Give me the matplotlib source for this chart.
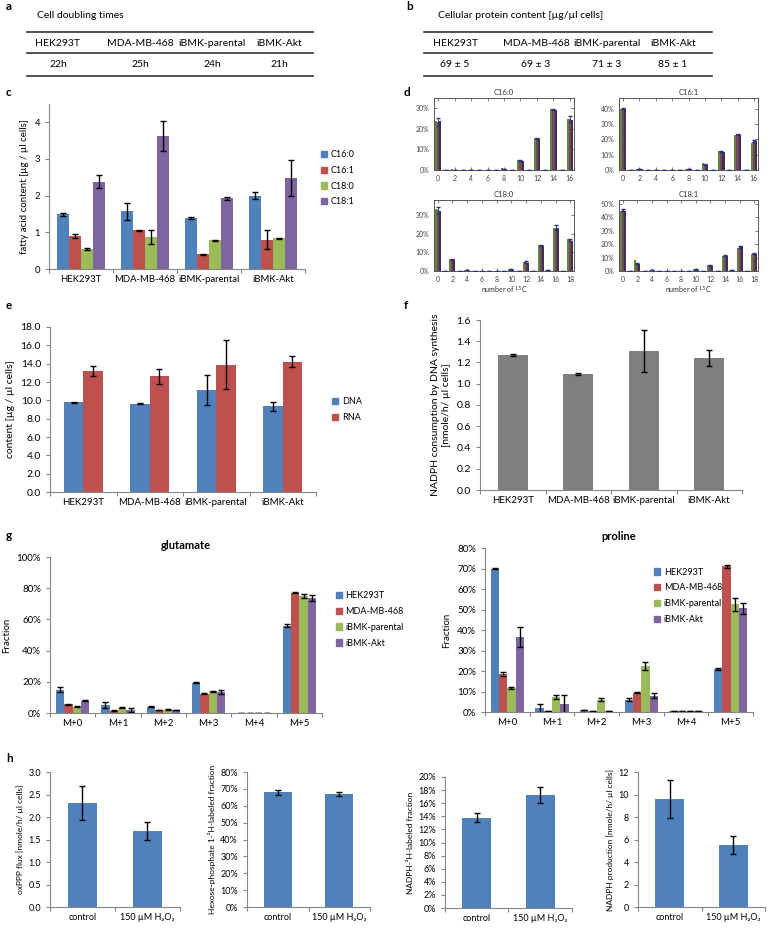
import numpy as np
import matplotlib
matplotlib.use('Agg')
import matplotlib.pyplot as plt
from matplotlib.ticker import FormatStrFormatter, FuncFormatter, MultipleLocator

plt.rcParams['font.family'] = ['Lato', 'DejaVu Sans']

W, H = 776, 930

# ---- data ----
cell_lines = ['HEK293T', 'MDA-MB-468', 'iBMK-parental', 'iBMK-Akt']
doubling_times = ['22h', '25h', '24h', '21h']
protein_content = ['69 ± 5', '69 ± 3', '71 ± 3', '85 ± 1']

fatty_acids = ['C16:0', 'C16:1', 'C18:0', 'C18:1']
# rows: fatty acid, cols: cell line
fa_mean = [[1.49, 1.57, 1.40, 2.00],
           [0.90, 1.05, 0.40, 0.80],
           [0.55, 0.86, 0.78, 0.84],
           [2.38, 3.63, 1.93, 2.48]]
fa_err = [[0.05, 0.24, 0.03, 0.09],
          [0.05, 0.02, 0.01, 0.25],
          [0.02, 0.19, 0.01, 0.01],
          [0.17, 0.40, 0.04, 0.50]]

# isotopologue distributions (%), three replicate series
c160_a = [24.0, 0, 0.3, 0, 0.2, 0, 0.2, 0, 0.8, 0, 4.8, 0, 15.5, 0, 29.5, 0, 25.0]
c160_b = [23.5, 0, 0.2, 0, 0.2, 0, 0.2, 0, 0.7, 0, 4.6, 0, 15.3, 0, 29.5, 0, 24.8]
c160_c = [23.8, 0, 0.2, 0, 0.2, 0, 0.2, 0, 0.7, 0, 4.4, 0, 15.0, 0, 29.0, 0, 24.5]
c160_e = [2.0, 0, 0, 0, 0, 0, 0, 0, 0, 0, 0.3, 0, 0.3, 0, 0.3, 0, 1.3]
c161_a = [40.0, 0, 0.6, 0, 0.2, 0, 0.2, 0, 0.5, 0, 4.3, 0, 12.5, 0, 23.0, 0, 17.5]
c161_b = [40.0, 0, 0.5, 0, 0.2, 0, 0.2, 0, 0.5, 0, 3.8, 0, 12.2, 0, 23.2, 0, 18.8]
c161_c = [39.5, 0, 0.4, 0, 0.2, 0, 0.2, 0, 0.4, 0, 3.4, 0, 11.8, 0, 23.0, 0, 19.2]
c161_e = [0.3, 0, 0, 0, 0, 0, 0, 0, 0, 0, 0.3, 0, 0.3, 0, 0.3, 0, 0.5]
c180_a = [33.0, 0, 6.5, 0, 0.3, 0, 0.2, 0, 0.2, 0, 1.2, 0, 5.0, 0, 14.0, 0.4, 23.0, 0, 17.0]
c180_b = [32.5, 0, 6.3, 0, 0.3, 0, 0.2, 0, 0.2, 0, 1.0, 0, 4.8, 0, 13.7, 0.3, 23.2, 0, 16.8]
c180_c = [32.0, 0, 6.0, 0, 0.2, 0, 0.2, 0, 0.2, 0, 0.8, 0, 4.5, 0, 13.3, 0.2, 22.8, 0, 16.3]
c180_e = [2.0, 0, 0.3, 0, 0, 0, 0, 0, 0, 0, 0.2, 0, 0.3, 0, 0.4, 0, 1.2, 0, 0.5]
c181_a = [45.0, 0, 8.5, 0, 0.5, 0, 0.2, 0, 0.2, 0, 1.2, 0, 4.5, 0, 11.0, 0.8, 17.0, 0, 12.5]
c181_b = [45.5, 0, 5.5, 0, 0.4, 0, 0.2, 0, 0.2, 0, 1.0, 0, 4.2, 0, 11.5, 0.5, 18.0, 0, 13.0]
c181_c = [45.0, 0, 5.0, 0, 0.3, 0, 0.2, 0, 0.2, 0, 0.8, 0, 3.8, 0, 11.5, 0.3, 18.5, 0, 12.8]
c181_e = [0.5, 0, 0.5, 0, 0, 0, 0, 0, 0, 0, 0.2, 0, 0.3, 0, 0.4, 0, 0.6, 0, 0.4]

dna_mean = [9.80, 9.65, 11.15, 9.35]
dna_err = [0.05, 0.07, 1.65, 0.50]
rna_mean = [13.2, 12.6, 13.9, 14.2]
rna_err = [0.5, 0.8, 2.7, 0.6]

nadph_dna = [1.27, 1.095, 1.31, 1.245]
nadph_dna_err = [0.007, 0.01, 0.195, 0.075]

isotopologues = ['M+0', 'M+1', 'M+2', 'M+3', 'M+4', 'M+5']
glu_mean = [[15.0, 5.0, 4.0, 19.5, 0.3, 56.0],
            [5.5, 1.5, 2.0, 12.5, 0.3, 77.0],
            [4.0, 3.5, 2.2, 14.0, 0.3, 75.0],
            [8.0, 2.0, 2.0, 13.5, 0.3, 73.5]]
glu_err = [[1.5, 2.0, 0.3, 0.3, 0.0, 1.0],
           [0.3, 0.3, 0.2, 0.4, 0.0, 0.3],
           [0.4, 0.5, 0.2, 0.3, 0.0, 1.0],
           [0.5, 1.5, 0.2, 1.0, 0.0, 2.0]]
pro_mean = [[70.0, 2.0, 1.0, 6.0, 0.3, 21.0],
            [18.5, 0.5, 0.5, 9.5, 0.3, 71.0],
            [11.5, 7.5, 6.0, 22.5, 0.3, 52.5],
            [36.5, 4.0, 0.5, 8.0, 0.3, 50.5]]
pro_err = [[0.3, 2.0, 0.2, 0.8, 0.0, 0.3],
           [1.0, 0.0, 0.0, 0.3, 0.0, 0.7],
           [0.5, 1.0, 0.8, 2.0, 0.0, 3.0],
           [5.0, 4.5, 0.0, 1.2, 0.0, 2.5]]

treatments = ['control', '150 µM H₂O₂']
oxppp_flux = [2.32, 1.69]
oxppp_flux_err = [0.38, 0.20]
hexose_labeled = [68.0, 67.0]
hexose_labeled_err = [1.5, 1.0]
nadph_labeled = [13.8, 17.2]
nadph_labeled_err = [0.7, 1.2]
nadph_production = [9.6, 5.5]
nadph_production_err = [1.7, 0.8]

# ---- styles ----
BLUE = '#4F81BD'
RED = '#C0504D'
GREEN = '#9BBB59'
PURPLE = '#8064A2'
GRAY = '#7F7F7F'
SPINE = '#868686'
series_colors = [BLUE, RED, GREEN, PURPLE]

fig = plt.figure(figsize=(W / 100, H / 100), dpi=100)


def box(x0, y0, x1, y1):
    # pixel box -> figure fraction rect
    return [x0 / W, 1 - y1 / H, (x1 - x0) / W, (y1 - y0) / H]


def excel_axes(ax, n, labels, fs):
    for s in ['top', 'right']:
        ax.spines[s].set_visible(False)
    for s in ['left', 'bottom']:
        ax.spines[s].set_color(SPINE)
        ax.spines[s].set_linewidth(0.8)
    ax.set_xlim(-0.5, n - 0.5)
    ax.set_xticks(np.arange(-0.5, n, 1))
    ax.set_xticklabels([])
    ax.set_xticks(np.arange(n), minor=True)
    ax.set_xticklabels(labels, minor=True, fontsize=fs)
    ax.tick_params(axis='x', which='major', length=3, color=SPINE, direction='out')
    ax.tick_params(axis='x', which='minor', length=0, pad=4)
    ax.tick_params(axis='y', length=3, color=SPINE, labelsize=fs, direction='out')


def grouped(ax, means, errs, colors, width, ekw):
    k = len(means)
    x = np.arange(len(means[0]))
    for i in range(k):
        off = (i - (k - 1) / 2) * width
        ax.bar(x + off, means[i], width, color=colors[i], yerr=errs[i],
               error_kw=ekw, zorder=2)


ekw = dict(ecolor='black', elinewidth=1.0, capsize=2.2, capthick=1.0)

# ---- overlay for tables and letters ----
ov = fig.add_axes([0, 0, 1, 1], zorder=-1)
ov.set_xlim(0, W)
ov.set_ylim(H, 0)
ov.axis('off')

for lx, ly, let in [(6, 7, 'a'), (406, 7, 'b'), (6, 92, 'c'), (404, 92, 'd'),
                    (6, 305, 'e'), (404, 305, 'f'), (6, 535, 'g'), (6, 758, 'h')]:
    ov.text(lx, ly, let, fontsize=8.5, fontweight='bold', ha='left', va='center')

ov.text(37, 16, 'Cell doubling times', fontsize=7.5, va='center')
ov.text(438, 16, 'Cellular protein content [µg/µl cells]', fontsize=7.5, va='center')
for yl in [32, 53, 76]:
    ov.plot([27, 313], [yl, yl], color='#333333', lw=1.2)
    ov.plot([424, 712], [yl, yl], color='#333333', lw=1.2)
for i, name in enumerate(cell_lines):
    xa = [58, 140, 212, 279][i]
    xb = [455, 536, 607, 673][i]
    ov.text(xa, 43, name, fontsize=7.5, ha='center', va='center')
    ov.text(xa, 64.5, doubling_times[i], fontsize=7.5, ha='center', va='center')
    ov.text(xb, 43, name, fontsize=7.5, ha='center', va='center')
    ov.text(xb, 64.5, protein_content[i], fontsize=7.5, ha='center', va='center')

# ---- c: fatty acid content ----
ax = fig.add_axes(box(49, 104, 305, 269))
grouped(ax, fa_mean, fa_err, series_colors, 0.185, ekw)
excel_axes(ax, 4, cell_lines, 6.8)
ax.set_ylim(0, 4.5)
ax.yaxis.set_major_locator(MultipleLocator(1))
ax.set_ylabel('fatty acid content [µg / µl cells]', fontsize=7, labelpad=4)
hs = [plt.Rectangle((0, 0), 1, 1, color=c) for c in series_colors]
ax.legend(hs, fatty_acids, loc='center left', bbox_to_anchor=(1.03, 0.55), frameon=False,
          fontsize=6.5, handlelength=0.7, handleheight=0.7, labelspacing=0.75, handletextpad=0.4)

# ---- d: isotopologue distributions ----
d_panels = [
    ('C16:0', box(434, 98, 574, 170), [c160_a, c160_b, c160_c], c160_e, 0.35, 0.1, 16),
    ('C16:1', box(619, 98, 758, 170), [c161_a, c161_b, c161_c], c161_e, 0.47, 0.1, 16),
    ('C18:0', box(434, 200, 574, 271), [c180_a, c180_b, c180_c], c180_e, 0.38, 0.1, 18),
    ('C18:1', box(619, 200, 758, 271), [c181_a, c181_b, c181_c], c181_e, 0.53, 0.1, 18),
]
d_colors = ['#5E8A36', '#7B3F6F', '#3A3446']
for title, rect, ser, err, ytop, ystep, nmax in d_panels:
    ax = fig.add_axes(rect)
    x = np.arange(nmax + 1)
    w = 0.27
    for i, s in enumerate(ser):
        ax.bar(x + (i - 1) * w, np.array(s) / 100, w, color=d_colors[i], zorder=2)
    ax.errorbar(x, np.array(ser[1]) / 100, yerr=np.array(err) / 100, fmt='none',
                ecolor='#2B2F8C', elinewidth=0.6, capsize=1.2, zorder=3)
    ax.axhline(0, color='#3050C0', lw=0.6, ls=(0, (2, 2)), zorder=1)
    ax.set_xlim(-0.5, nmax + 0.5)
    ax.set_ylim(0, ytop)
    ax.set_xticks(np.arange(0, nmax + 1, 2))
    ax.yaxis.set_major_locator(MultipleLocator(ystep))
    ax.yaxis.set_major_formatter(FuncFormatter(lambda v, p: '%d%%' % round(v * 100)))
    ax.tick_params(direction='in', top=True, right=True, length=2, width=0.5,
                   labelsize=5, colors='#444444')
    for s in ax.spines.values():
        s.set_color('#555555')
        s.set_linewidth(0.7)
    ax.set_title(title, fontsize=5.5, pad=2, color='#333333')
    if nmax == 18:
        ax.set_xlabel('number of $^{13}$C', fontsize=5, labelpad=1, color='#333333')

# ---- e: DNA / RNA content ----
ax = fig.add_axes(box(50, 327, 316, 492))
grouped(ax, [dna_mean, rna_mean], [dna_err, rna_err], [BLUE, RED], 0.29, ekw)
excel_axes(ax, 4, cell_lines, 7)
ax.tick_params(axis='y', labelsize=7.5)
ax.set_ylim(0, 18)
ax.yaxis.set_major_locator(MultipleLocator(2))
ax.yaxis.set_major_formatter(FormatStrFormatter('%.1f'))
ax.set_ylabel('content [µg / µl cells]', fontsize=7.5, labelpad=4)
ax.legend([plt.Rectangle((0, 0), 1, 1, color=c) for c in [BLUE, RED]], ['DNA', 'RNA'],
          loc='center left', bbox_to_anchor=(1.03, 0.5), frameon=False, fontsize=6.5,
          handlelength=0.7, handleheight=0.7, labelspacing=0.75, handletextpad=0.4)

# ---- f: NADPH consumption by DNA synthesis ----
ax = fig.add_axes(box(480, 320, 742, 490))
ax.bar(np.arange(4), nadph_dna, 0.46, color=GRAY, yerr=nadph_dna_err, error_kw=ekw, zorder=2)
excel_axes(ax, 4, cell_lines, 7)
ax.tick_params(axis='y', labelsize=7.5)
ax.set_ylim(0, 1.6)
ax.yaxis.set_major_locator(MultipleLocator(0.2))
ax.yaxis.set_major_formatter(FormatStrFormatter('%.1f'))
ax.set_ylabel('NADPH consumption by DNA synthesis\n[nmole/h/ µl cells]', fontsize=7.5,
              labelpad=4, linespacing=1.3)

# ---- g: glutamate and proline labeling ----
pct = FuncFormatter(lambda v, p: '%d%%' % round(v))
ax = fig.add_axes(box(50, 557, 322, 713))
grouped(ax, glu_mean, glu_err, series_colors, 0.185, ekw)
excel_axes(ax, 6, isotopologues, 7)
ax.set_ylim(0, 100)
ax.yaxis.set_major_locator(MultipleLocator(20))
ax.yaxis.set_major_formatter(pct)
ax.set_ylabel('Fraction', fontsize=7, labelpad=4)
ax.set_title('glutamate', fontsize=8, fontweight='bold', pad=6)
ax.legend(hs, cell_lines, loc='center left', bbox_to_anchor=(1.02, 0.6), frameon=False,
          fontsize=6.5, handlelength=0.7, handleheight=0.7, labelspacing=0.75, handletextpad=0.4)

ax = fig.add_axes(box(485, 548, 753, 712))
grouped(ax, pro_mean, pro_err, series_colors, 0.185, ekw)
excel_axes(ax, 6, isotopologues, 7)
ax.set_ylim(0, 80)
ax.yaxis.set_major_locator(MultipleLocator(10))
ax.yaxis.set_major_formatter(pct)
ax.set_ylabel('Fraction', fontsize=7, labelpad=4)
ax.set_title('proline', fontsize=8, fontweight='bold', pad=6)
ax.legend(hs, cell_lines, loc='upper left', bbox_to_anchor=(0.6, 0.93), frameon=False,
          fontsize=6.5, handlelength=0.7, handleheight=0.7, labelspacing=0.75, handletextpad=0.4)

# ---- h: H2O2 treatment ----
h_panels = [
    (box(50, 772, 180, 907), oxppp_flux, oxppp_flux_err, 3.0, 0.5, '%.1f',
     'oxPPP flux [nmole/h/ µl cells]'),
    (box(247, 772, 370, 907), hexose_labeled, hexose_labeled_err, 80, 10, 'pct',
     'Hexose-phosphate 1-²H-labeled fraction'),
    (box(445, 777, 572, 908), nadph_labeled, nadph_labeled_err, 20, 2, 'pct',
     'NADPH-²H-labeled fraction'),
    (box(638, 772, 765, 907), nadph_production, nadph_production_err, 12, 2, '%d',
     'NADPH production [nmole/h/ µl cells]'),
]
for rect, vals, errs, ytop, ystep, fmt, ylab in h_panels:
    ax = fig.add_axes(rect)
    ax.bar(np.arange(2), vals, 0.45, color=BLUE, yerr=errs, error_kw=ekw, zorder=2)
    excel_axes(ax, 2, treatments, 6.5)
    ax.set_ylim(0, ytop)
    ax.yaxis.set_major_locator(MultipleLocator(ystep))
    if fmt == 'pct':
        ax.yaxis.set_major_formatter(pct)
    else:
        ax.yaxis.set_major_formatter(FormatStrFormatter(fmt))
    ax.set_ylabel(ylab, fontsize=6, labelpad=3)

fig.savefig('out.png', dpi=100)
